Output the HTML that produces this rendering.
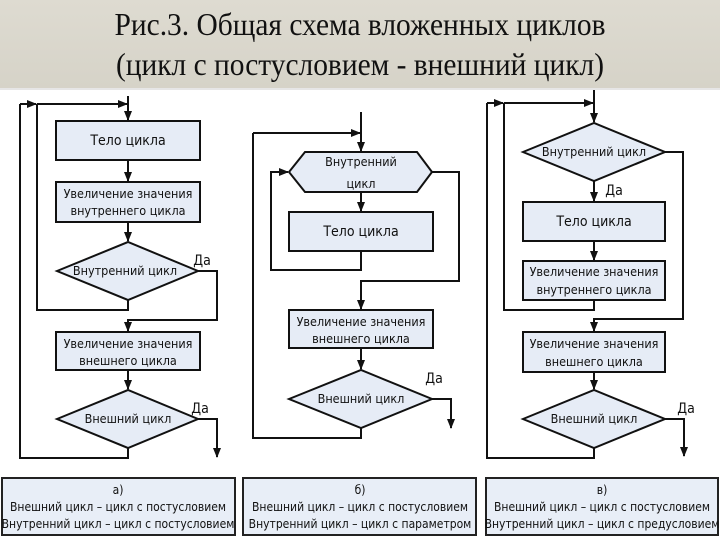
<!DOCTYPE html>
<html><head><meta charset="utf-8">
<style>
html,body{margin:0;padding:0;background:#fff;}
body{width:720px;height:540px;overflow:hidden;position:relative;}
.title{position:absolute;left:0;top:0;width:720px;height:88px;background:linear-gradient(#dedbd1,#d6d3c8);}
svg{position:absolute;left:0;top:0;}
</style></head><body>
<div class="title"></div>
<svg width="720" height="540" viewBox="0 0 720 540" xmlns="http://www.w3.org/2000/svg">
<defs>
<marker id="a" markerWidth="10" markerHeight="10" refX="9" refY="5" orient="auto" markerUnits="userSpaceOnUse">
<path d="M0,1 L10,5 L0,9 Z" fill="#111"/></marker>
</defs>
<g font-family="Liberation Serif, 'Noto Serif CJK SC', serif" font-size="32" fill="#111" text-anchor="middle" transform="translate(360,0) scale(0.92,1) translate(-360,0)">
<text x="360" y="35">Рис.3. Общая схема вложенных циклов</text>
<text x="360" y="75">(цикл с постусловием - внешний цикл)</text>
</g>
<line x1="0" y1="89" x2="720" y2="89" stroke="#ccc" stroke-width="1"/>

<g stroke="#111" stroke-width="2" fill="#e6ecf6">
<rect x="56" y="121" width="144" height="39"/>
<rect x="56" y="182" width="144" height="40"/>
<polygon points="57,271 128,242 198,271 128,300"/>
<rect x="56" y="332" width="144" height="38"/>
<polygon points="57,419 128,390 198,419 128,448"/>
<polygon points="289,172 305,152 417,152 432,172 417,192 305,192"/>
<rect x="289" y="212" width="144" height="39"/>
<rect x="289" y="310" width="144" height="38"/>
<polygon points="289,399 361,370 432,399 361,428"/>
<polygon points="523,152 594,123 665,152 594,181"/>
<rect x="523" y="202" width="142" height="39"/>
<rect x="523" y="261" width="142" height="39"/>
<rect x="523" y="332" width="142" height="40"/>
<polygon points="523,419 594,390 665,419 594,448"/>
</g>

<g stroke="#111" stroke-width="2" fill="none">
<line x1="128" y1="96" x2="128" y2="120" marker-end="url(#a)"/>
<line x1="37" y1="104" x2="127" y2="104" marker-end="url(#a)"/>
<line x1="20" y1="104" x2="36" y2="104" marker-end="url(#a)"/>
<line x1="128" y1="160" x2="128" y2="181" marker-end="url(#a)"/>
<line x1="128" y1="222" x2="128" y2="241" marker-end="url(#a)"/>
<polyline points="128,300 128,310 37,310 37,104"/>
<polyline points="198,271 217,271 217,320 128,320 128,331" marker-end="url(#a)"/>
<line x1="128" y1="370" x2="128" y2="389" marker-end="url(#a)"/>
<polyline points="198,419 217,419 217,457" marker-end="url(#a)"/>
<polyline points="128,448 128,458 20,458 20,104"/>
<line x1="361" y1="112" x2="361" y2="151" marker-end="url(#a)"/>
<line x1="253" y1="133" x2="360" y2="133" marker-end="url(#a)"/>
<line x1="361" y1="192" x2="361" y2="211" marker-end="url(#a)"/>
<polyline points="361,251 361,270 271,270 271,172 288,172" marker-end="url(#a)"/>
<polyline points="432,172 459,172 459,281 361,281 361,309" marker-end="url(#a)"/>
<line x1="361" y1="348" x2="361" y2="369" marker-end="url(#a)"/>
<polyline points="432,399 451,399 451,428" marker-end="url(#a)"/>
<polyline points="361,428 361,438 253,438 253,133"/>
<line x1="594" y1="90" x2="594" y2="122" marker-end="url(#a)"/>
<line x1="504" y1="103" x2="593" y2="103" marker-end="url(#a)"/>
<line x1="487" y1="103" x2="503" y2="103" marker-end="url(#a)"/>
<line x1="594" y1="181" x2="594" y2="201" marker-end="url(#a)"/>
<line x1="594" y1="241" x2="594" y2="260" marker-end="url(#a)"/>
<polyline points="594,300 594,310 504,310 504,103"/>
<polyline points="665,152 683,152 683,319 594,319 594,331" marker-end="url(#a)"/>
<line x1="594" y1="372" x2="594" y2="389" marker-end="url(#a)"/>
<polyline points="665,419 684,419 684,456" marker-end="url(#a)"/>
<polyline points="594,448 594,458 487,458 487,103"/>
</g>

<g font-family="'DejaVu Sans Condensed','Liberation Sans Narrow','Liberation Sans',sans-serif" font-size="12.5" fill="#111" text-anchor="middle">
<text x="128" y="145" font-size="14">Тело цикла</text>
<text x="128" y="198">Увеличение значения</text>
<text x="128" y="215">внутреннего цикла</text>
<text x="125" y="275">Внутренний цикл</text>
<text x="202" y="265" font-size="14">Да</text>
<text x="128" y="348">Увеличение значения</text>
<text x="128" y="365">внешнего цикла</text>
<text x="128" y="423">Внешний цикл</text>
<text x="200" y="413" font-size="14">Да</text>
<text x="361" y="166">Внутренний</text>
<text x="361" y="188">цикл</text>
<text x="361" y="236" font-size="14">Тело цикла</text>
<text x="361" y="326">Увеличение значения</text>
<text x="361" y="343">внешнего цикла</text>
<text x="361" y="403">Внешний цикл</text>
<text x="434" y="383" font-size="14">Да</text>
<text x="594" y="156">Внутренний цикл</text>
<text x="614" y="195" font-size="14">Да</text>
<text x="594" y="226" font-size="14">Тело цикла</text>
<text x="594" y="276">Увеличение значения</text>
<text x="594" y="294">внутреннего цикла</text>
<text x="594" y="348">Увеличение значения</text>
<text x="594" y="366">внешнего цикла</text>
<text x="594" y="423">Внешний цикл</text>
<text x="686" y="413" font-size="14">Да</text>
</g>

<g stroke="#222" stroke-width="2" fill="#e8eef7">
<rect x="2" y="478" width="233" height="57"/>
<rect x="243" y="478" width="233" height="57"/>
<rect x="486" y="478" width="232" height="57"/>
</g>
<g font-family="'DejaVu Sans Condensed','Liberation Sans Narrow','Liberation Sans',sans-serif" font-size="12" fill="#111" text-anchor="middle">
<text x="118" y="494">а)</text>
<text x="118" y="511">Внешний цикл – цикл с постусловием</text>
<text x="118" y="528">Внутренний цикл – цикл с постусловием</text>
<text x="360" y="494">б)</text>
<text x="360" y="511">Внешний цикл – цикл с постусловием</text>
<text x="360" y="528">Внутренний цикл – цикл с параметром</text>
<text x="602" y="494">в)</text>
<text x="602" y="511">Внешний цикл – цикл с постусловием</text>
<text x="602" y="528">Внутренний цикл – цикл с предусловием</text>
</g>
</svg>
</body></html>
